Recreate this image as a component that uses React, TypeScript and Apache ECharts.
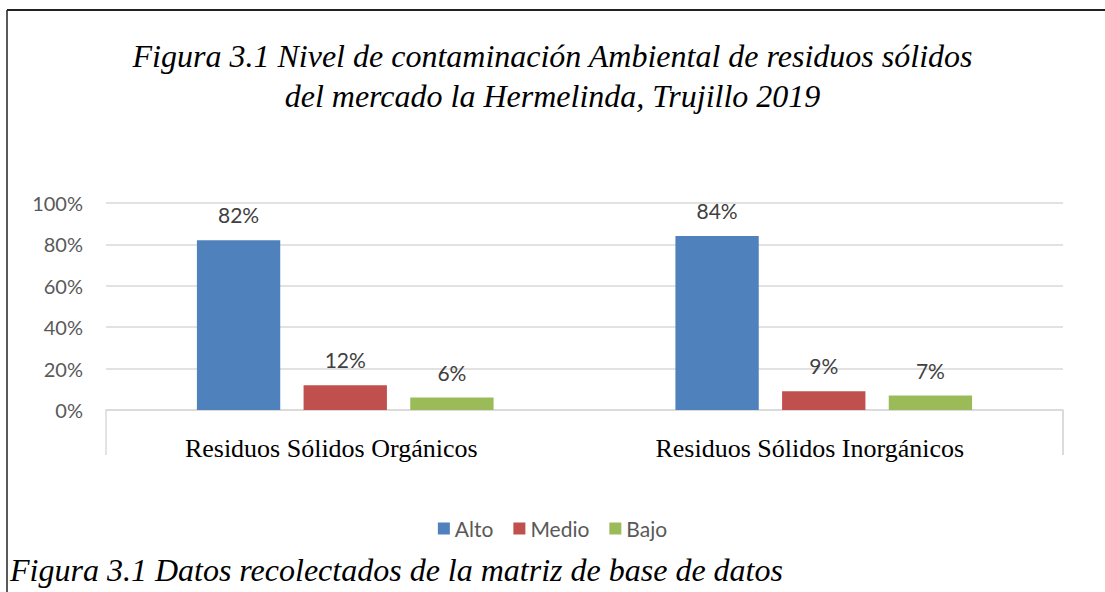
import React, { useEffect, useRef } from "react";
import * as echarts from "echarts";

const categories = ["Residuos Sólidos Orgánicos", "Residuos Sólidos Inorgánicos"];
const seriesNames = ["Alto", "Medio", "Bajo"];
const alto = [0.82, 0.84];
const medio = [0.12, 0.09];
const bajo = [0.06, 0.07];
const colors = ["#4F81BD", "#C0504D", "#9BBB59"];
const titleLines = [
  "Figura 3.1 Nivel de contaminación Ambiental de residuos sólidos",
  "del mercado la Hermelinda, Trujillo 2019",
];
const captionText = "Figura 3.1 Datos recolectados de la matriz de base de datos";

export default function App() {
  const ref = useRef<HTMLDivElement>(null);
  useEffect(() => {
    if (!ref.current) return;
    const chart = echarts.init(ref.current, undefined, { renderer: "svg" });
    const values = [alto, medio, bajo];
    const labelFont = "Lato, 'Liberation Sans', sans-serif";
    chart.setOption({
      animation: false,
      backgroundColor: "#ffffff",
      title: {
        text: titleLines.join("\n"),
        left: "center",
        top: 31,
        textStyle: {
          fontFamily: "'Liberation Serif', 'Times New Roman', serif",
          fontStyle: "italic",
          fontWeight: "normal",
          fontSize: 32,
          lineHeight: 40,
          color: "#000000",
        },
      },
      legend: {
        data: seriesNames,
        left: "center",
        top: 513,
        itemWidth: 12,
        itemHeight: 12,
        itemGap: 20,
        icon: "rect",
        textStyle: { fontFamily: labelFont, fontSize: 21, color: "#595959", padding: [0, 0, 0, 0] },
      },
      grid: { left: 106, right: 42, top: 203, bottom: 182, containLabel: false },
      xAxis: {
        type: "category",
        data: categories,
        axisLine: { show: true, lineStyle: { color: "#d9d9d9", width: 1.5 } },
        axisTick: {
          show: true,
          length: 45,
          lineStyle: { color: "#d9d9d9", width: 1.5 },
          interval: (index: number) => index === 0,
        },
        axisLabel: {
          margin: 25,
          padding: [0, 28, 0, 0],
          fontFamily: "'Liberation Serif', 'Times New Roman', serif",
          fontSize: 26,
          color: "#000000",
        },
      },
      yAxis: {
        type: "value",
        min: 0,
        max: 1,
        interval: 0.2,
        axisLine: { show: false },
        axisTick: { show: false },
        splitLine: { lineStyle: { color: "#d9d9d9", width: 1.5 } },
        axisLabel: {
          margin: 23,
          fontFamily: labelFont,
          fontSize: 20,
          color: "#595959",
          formatter: (v: number) => Math.round(v * 100) + "%",
        },
      },
      series: seriesNames.map((name, i) => ({
        name,
        type: "bar",
        data: values[i],
        barGap: "28%",
        barCategoryGap: "38%",
        itemStyle: { color: colors[i] },
        label: {
          show: true,
          position: "top",
          distance: 15,
          fontFamily: labelFont,
          fontSize: 21,
          color: "#404040",
          formatter: (p: any) => Math.round(p.value * 100) + "%",
        },
      })),
      graphic: [
        {
          type: "line",
          shape: { x1: 7, y1: 10, x2: 1105, y2: 10 },
          style: { stroke: "#222222", lineWidth: 2 },
        },
        {
          type: "line",
          shape: { x1: 7, y1: 10, x2: 7, y2: 592 },
          style: { stroke: "#222222", lineWidth: 1.5 },
        },
        {
          type: "line",
          shape: { x1: 1063, y1: 410, x2: 1063, y2: 455 },
          style: { stroke: "#d9d9d9", lineWidth: 1.5 },
        },
        {
          type: "text",
          left: 10,
          top: 554,
          style: {
            text: captionText,
            fontFamily: "'Liberation Serif', 'Times New Roman', serif",
            fontStyle: "italic",
            fontSize: 32,
            fill: "#000000",
          },
        },
      ],
    });
    return () => chart.dispose();
  }, []);
  return (
    <div
      ref={ref}
      style={{ position: "absolute", left: 0, top: 0, width: 1105, height: 592 }}
    />
  );
}
